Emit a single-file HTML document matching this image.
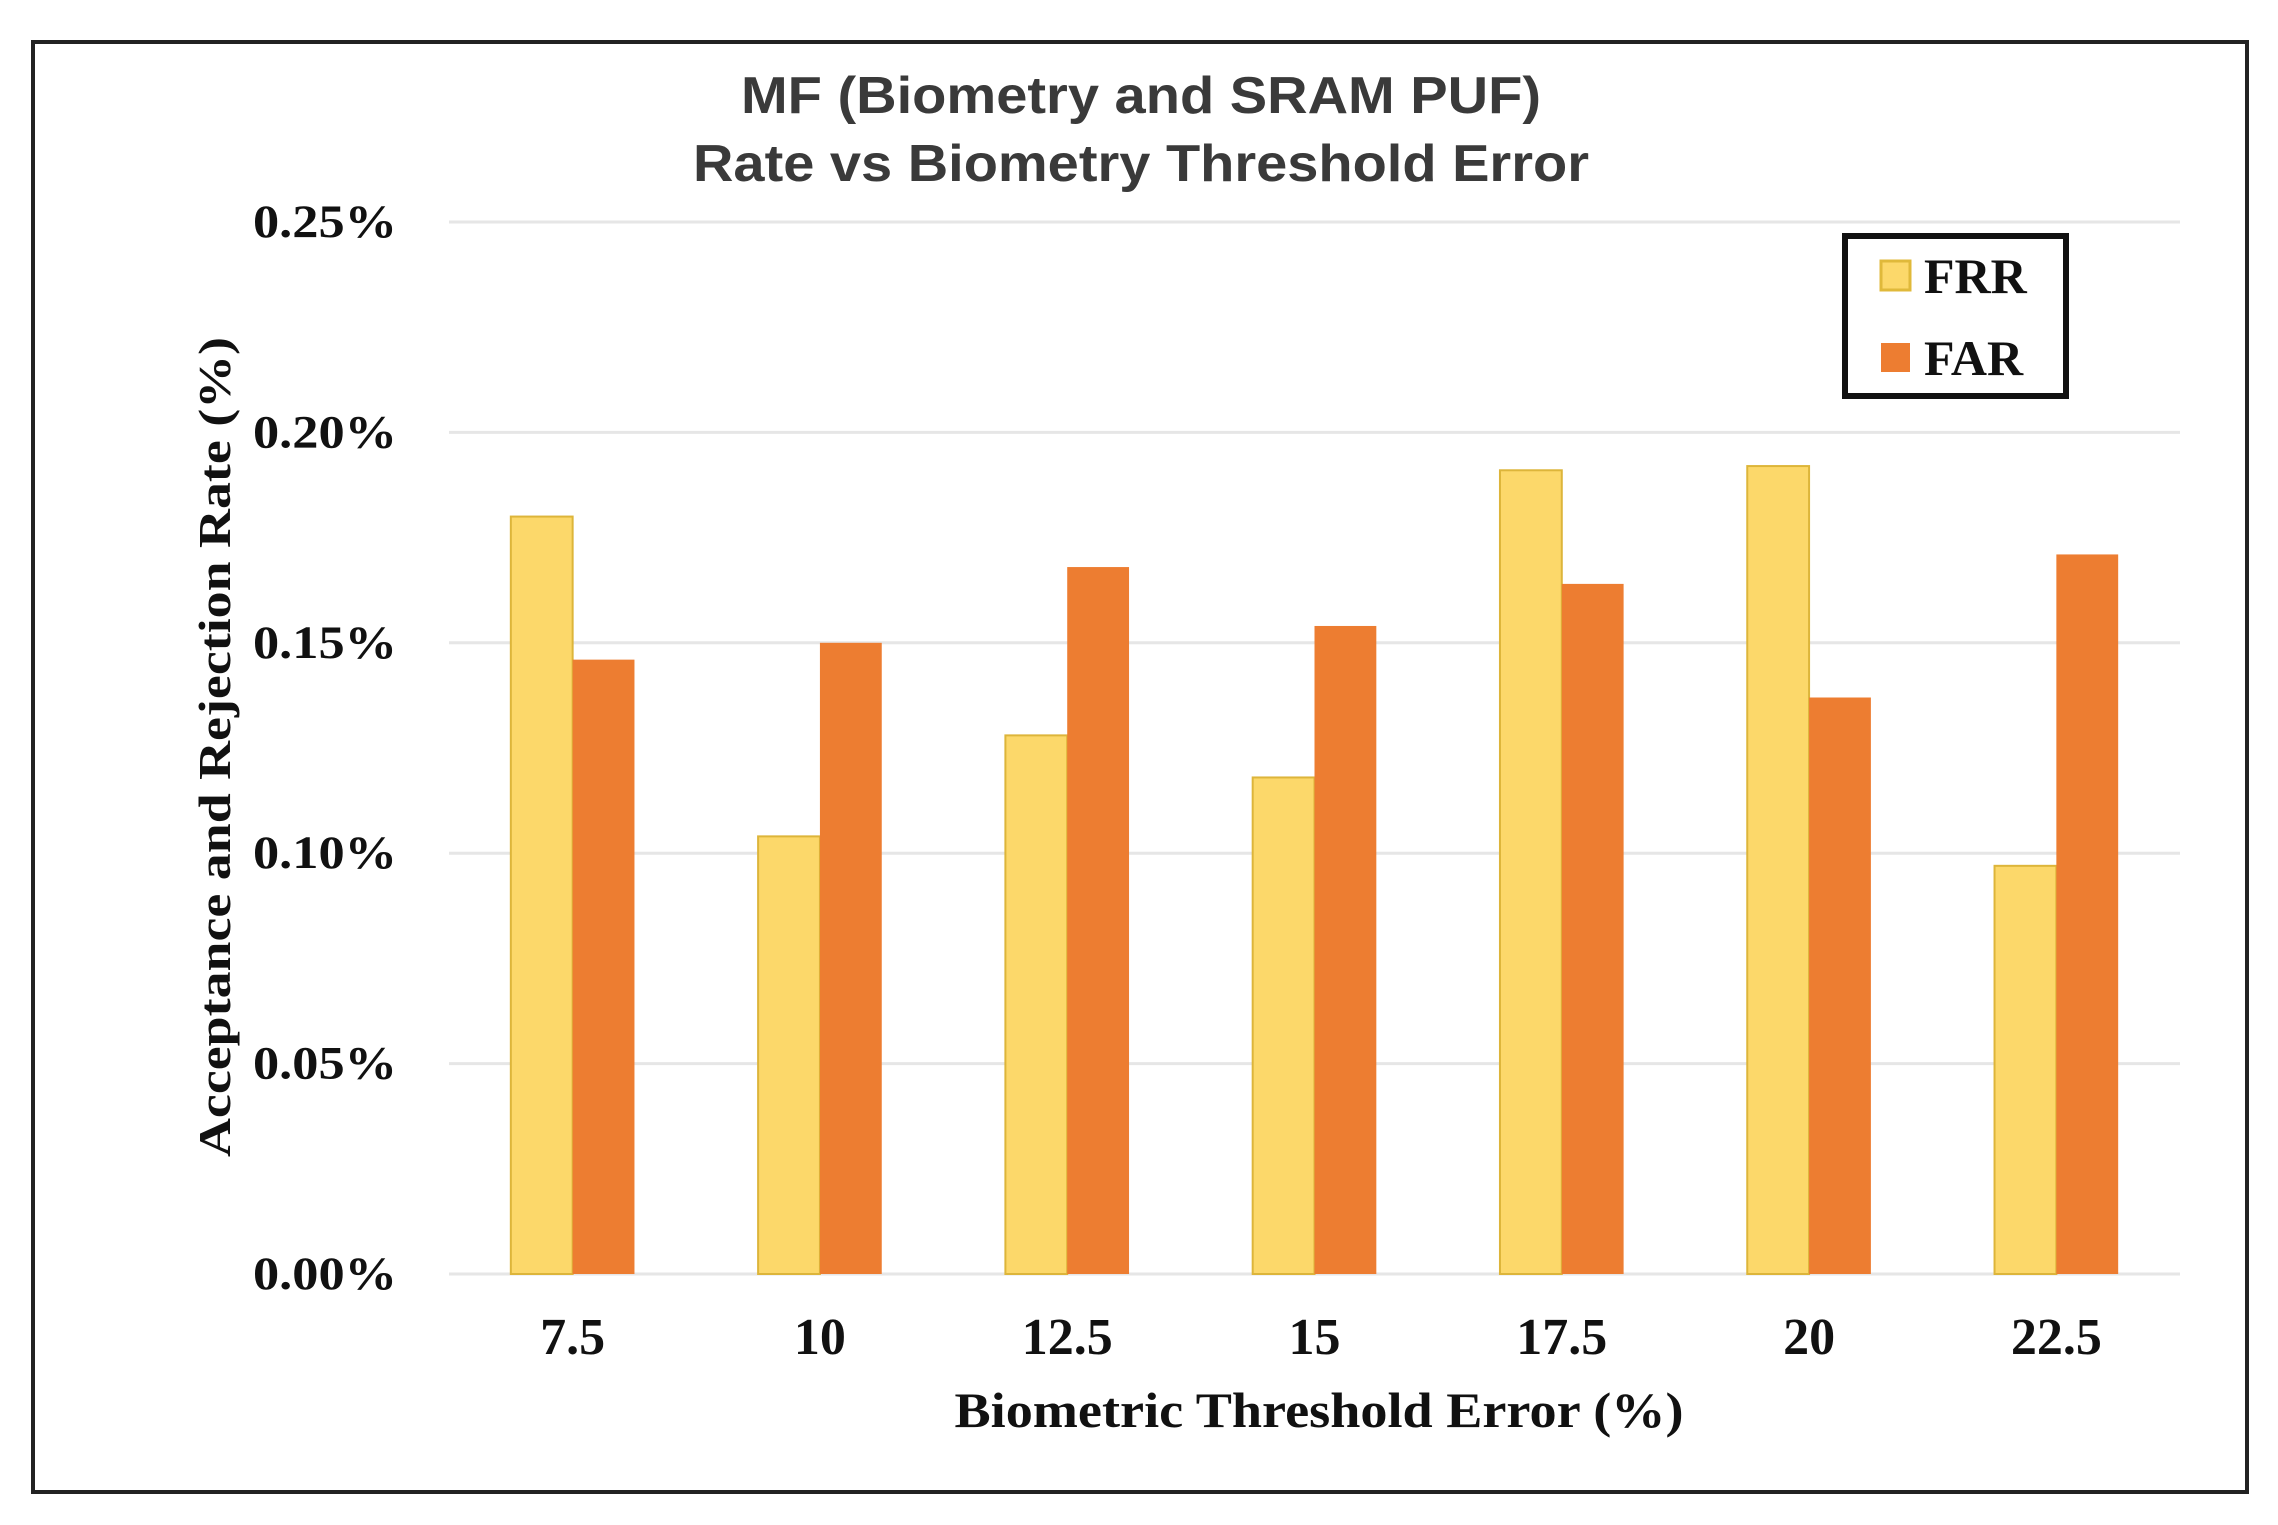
<!DOCTYPE html>
<html><head><meta charset="utf-8"><style>
html,body{margin:0;padding:0;background:#fff;}
svg{display:block;}
</style></head><body>
<svg id="chart" width="2278" height="1525" xmlns="http://www.w3.org/2000/svg">
<rect x="0" y="0" width="2278" height="1525" fill="#fff"/>
<rect x="33" y="42" width="2214" height="1450" fill="none" stroke="#222" stroke-width="4"/>
<text x="1141" y="113" text-anchor="middle" textLength="800" lengthAdjust="spacingAndGlyphs" font-family="Liberation Sans, sans-serif" font-weight="bold" font-size="52" fill="#3a3a3a">MF (Biometry and SRAM PUF)</text>
<text x="1141" y="181" text-anchor="middle" textLength="896" lengthAdjust="spacingAndGlyphs" font-family="Liberation Sans, sans-serif" font-weight="bold" font-size="52" fill="#3a3a3a">Rate vs Biometry Threshold Error</text>
<g id="grid"></g>
<g id="bars"></g>
<g id="yticks"></g>
<g id="xticks"></g>
<text x="1319" y="1427" text-anchor="middle" textLength="729" lengthAdjust="spacingAndGlyphs" font-family="Liberation Serif, serif" font-weight="bold" font-size="50" fill="#111">Biometric Threshold Error (%)</text>
<text transform="translate(230,747) rotate(-90)" text-anchor="middle" textLength="820" lengthAdjust="spacingAndGlyphs" font-family="Liberation Serif, serif" font-weight="bold" font-size="46" fill="#111">Acceptance and Rejection Rate (%)</text>
<g>
<rect x="1845" y="236" width="221" height="160" fill="#fff" stroke="#111" stroke-width="6"/>
<rect x="1881" y="261" width="29" height="29" fill="#FCD86A" stroke="#E0B93A" stroke-width="3"/>
<text x="1924" y="293" font-family="Liberation Serif, serif" font-weight="bold" font-size="50" fill="#111">FRR</text>
<rect x="1881" y="343" width="29" height="29" fill="#ED7D31"/>
<text x="1924" y="375" font-family="Liberation Serif, serif" font-weight="bold" font-size="50" fill="#111">FAR</text>
</g>
</svg>
<script>
const categories = ["7.5","10","12.5","15","17.5","20","22.5"];
const frrValues = [0.180,0.104,0.128,0.118,0.191,0.192,0.097];
const farValues = [0.146,0.150,0.168,0.154,0.164,0.137,0.171];
const yTicks = [0,0.05,0.10,0.15,0.20,0.25];
const yTickLabels = ["0.00%","0.05%","0.10%","0.15%","0.20%","0.25%"];

const NS="http://www.w3.org/2000/svg";
const plotL=449, plotR=2180, plotT=222, plotB=1274, yMax=0.25;
function yS(v){return plotB-(v/yMax)*(plotB-plotT);}
const bandW=(plotR-plotL)/categories.length;
function xC(i){return plotL+bandW*(i+0.5);}
const barW=bandW*0.25;
function mk(tag,attrs,parent){const e=document.createElementNS(NS,tag);for(const k in attrs)e.setAttribute(k,attrs[k]);parent.appendChild(e);return e;}
const grid=document.getElementById('grid'),bars=document.getElementById('bars'),yt=document.getElementById('yticks'),xt=document.getElementById('xticks');
yTicks.forEach((v,i)=>{
  const l=mk('line',{x1:plotL,x2:plotR,y1:yS(v),y2:yS(v),stroke:'#e6e6e6','stroke-width':3},grid);
  
  
  const t=mk('text',{x:397,y:yS(v)+15,'text-anchor':'end',textLength:144,lengthAdjust:'spacingAndGlyphs','font-family':'Liberation Serif, serif','font-weight':'bold','font-size':47,fill:'#111'},yt);
  t.textContent=yTickLabels[i];
  
  
});
categories.forEach((c,i)=>{
  const cx=xC(i);
  const r1=mk('rect',{x:cx-barW,y:yS(frrValues[i]),width:barW,height:plotB-yS(frrValues[i]),fill:'#FCD86A',stroke:'#DDB53A','stroke-width':2},bars);
  
  
  const r2=mk('rect',{x:cx,y:yS(farValues[i]),width:barW,height:plotB-yS(farValues[i]),fill:'#ED7D31'},bars);
  
  
  const t=mk('text',{x:cx,y:1354,'text-anchor':'middle','font-family':'Liberation Serif, serif','font-weight':'bold','font-size':52,fill:'#111'},xt);
  t.textContent=c;
  
  
});
</script>
</body></html>
